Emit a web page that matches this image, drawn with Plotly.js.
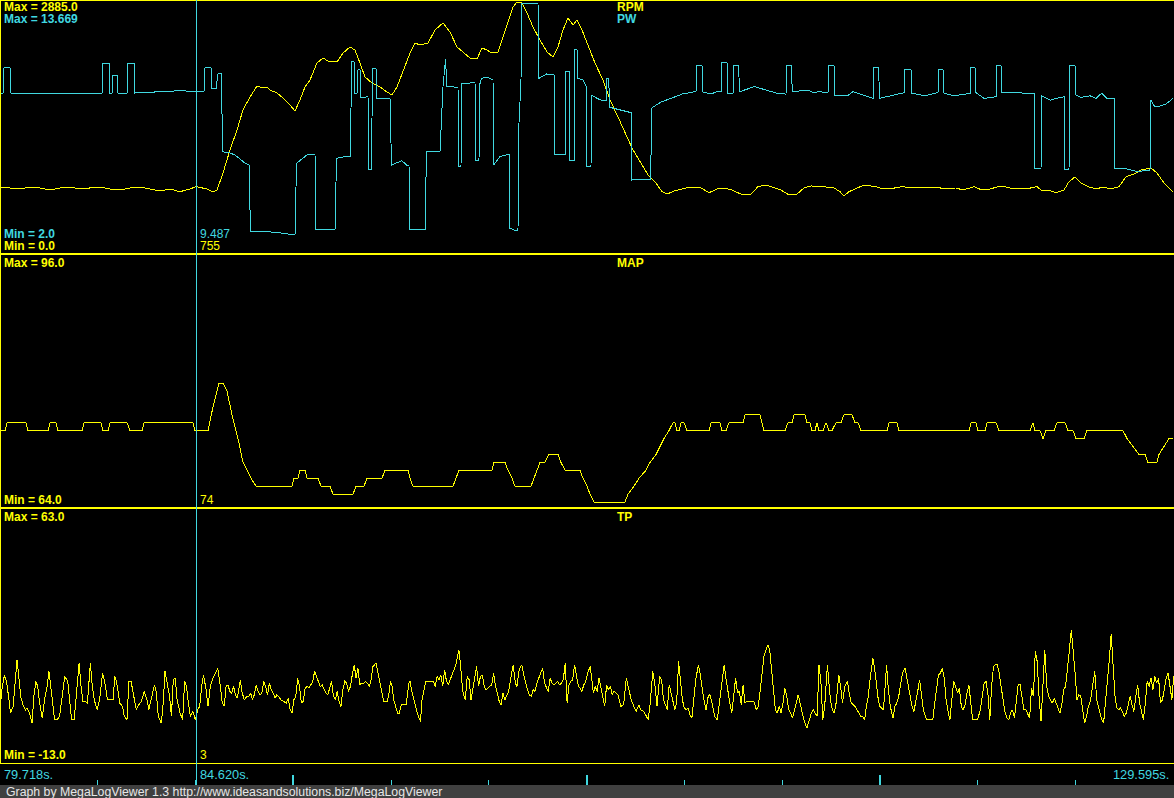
<!DOCTYPE html>
<html>
<head>
<meta charset="utf-8">
<script src="https://cdn.plot.ly/plotly-3.0.1.min.js"></script>
<style>
html,body{margin:0;padding:0;background:#000;}
#chart{width:1174px;height:798px;}
#chart .scatterlayer path.js-line,
#chart .shapelayer path,
#chart .xtick, #chart .xtick2 { shape-rendering: crispEdges; }
</style>
</head>
<body>
<div id="chart"></div>
<script>
// ---------------- DATA (x = log record position) ----------------
const channelTop = ['RPM', 'PW'];
const channelMid = 'MAP';
const channelBot = 'TP';
const rpmRange = [0.0, 2885.0];
const pwRange = [2.0, 13.669];
const mapRange = [64.0, 96.0];
const tpRange = [-13.0, 63.0];
const recordRange = [0, 1174];
const cursorRecord = 196;
const cursorValues = {pw: '9.487', rpm: '755', map: '74', tp: '3'};
const timeLabels = {start: '79.718s.', cursor: '84.620s.', end: '129.595s.'};
const footerText = 'Graph by MegaLogViewer 1.3 http://www.ideasandsolutions.biz/MegaLogViewer';

const rpmX = [
  0,10,20,30,40,50,60,70,80,90,
  100,110,120,130,140,150,160,170,180,190,
  196,207,213,217,223,230,237,243,250,257,
  262,267,270,277,283,290,295,300,305,310,
  317,323,328,337,343,350,355,360,365,372,
  380,387,392,397,403,410,415,420,428,435,
  443,450,457,463,470,477,482,487,492,498,
  502,507,513,517,522,527,533,540,547,553,
  558,563,568,573,577,582,588,595,603,610,
  618,625,633,641,648,656,662,667,675,686,
  694,701,709,717,724,732,743,751,758,766,
  773,781,789,796,804,811,823,834,840,844,
  849,857,864,876,883,895,902,914,925,937,
  944,956,963,974,982,990,997,1003,1009,1020,
  1031,1037,1041,1048,1056,1064,1069,1075,1081,1088,
  1096,1103,1111,1119,1126,1134,1141,1151,1157,1164,
  1173];
const rpmVal = [
  750,739,727,750,739,715,739,750,727,739,
  750,727,715,739,750,727,704,727,696,727,
  755,727,692,715,912,1177,1408,1639,1789,1916,
  1893,1904,1869,1835,1777,1696,1627,1754,1904,1985,
  2181,2239,2204,2193,2296,2366,2331,2181,2020,1950,
  1904,1846,1812,1904,2077,2296,2412,2389,2412,2562,
  2643,2539,2366,2308,2239,2227,2354,2331,2296,2308,
  2446,2597,2827,2885,2873,2758,2597,2446,2308,2250,
  2366,2562,2700,2620,2677,2562,2380,2181,1985,1754,
  1558,1373,1177,1027,889,796,696,669,707,739,
  750,739,684,727,739,715,658,669,754,773,
  750,715,658,658,739,762,754,739,696,646,
  696,742,773,754,727,739,754,739,742,750,
  727,739,715,754,715,727,750,762,739,727,
  739,754,715,715,684,715,811,866,796,754,
  727,750,727,754,869,900,946,969,912,796,
  696];

const pwX = [
  0,3,4,10,11,102,103,109,110,112,
  113,117,118,127,128,134,135,180,196,204,
  205,211,212,216,218,221.5,222.5,230,235,245,
  249,250.5,275,295,296.5,300,307,315,316,335,
  336.5,345,350.5,351.5,354,355,357,358,360,361,
  368,369,371.5,372.5,376,377,390,391.5,396.7,401.7,
  406.7,409,410,425,426.5,440,443,445.5,447,458,
  458.5,461,461.7,475,476,479,479.5,481.7,488,491.7,
  493,493.5,500,509.5,510,515,518,518.5,521,521.7,
  538,539,546.7,554.5,555,565.5,566,569.5,570,574.5,
  575,577,577.5,583,586.5,587,591,591.5,597,603,
  606,606.7,608.5,610,617,630,631.5,632,650.5,652,
  661,671,682,694,696,696.5,702,702.5,711,716.6,
  721.5,722,727,728,733,734,738.6,739.5,754.5,766,
  777,786,787,791,792.4,807.6,813,819,828,828.5,
  834,835,847.5,853,860.7,873.5,874,878.6,879.5,891,
  904.5,905,911,912,925,938,938.5,943,944,953.7,
  970.5,971,975,976,984,996.5,997,1001,1002,1034.5,
  1035,1041,1042,1050.4,1056,1064.5,1065,1069,1070,1075.5,
  1076,1081,1090,1096,1101.6,1107,1114.5,1115,1124,1137.7,
  1150,1151,1154.7,1160,1166,1173];
const pwVal = [
  9.40,9.40,10.59,10.59,9.42,9.42,10.82,10.82,9.42,9.42,
  10.26,10.26,9.42,9.42,10.82,10.82,9.42,9.53,9.49,9.50,
  10.60,10.60,9.61,9.61,10.31,10.31,6.68,6.62,6.53,6.15,
  6.06,2.95,2.93,2.79,6.14,6.26,6.53,6.53,3.03,3.03,
  6.37,6.45,6.45,10.88,10.88,9.41,9.41,10.50,10.50,9.19,
  9.25,5.83,5.83,10.57,10.57,9.17,9.17,6.06,6.15,6.26,
  6.06,6.06,3.03,3.03,6.68,6.68,9.72,10.99,9.72,9.69,
  6.01,6.01,9.87,9.90,6.29,6.29,9.79,10.11,10.15,10.03,
  10.03,6.06,6.45,6.57,3.11,3.00,3.00,7.55,10.00,13.60,
  13.60,10.11,10.31,10.26,6.53,6.53,10.42,10.42,6.29,6.29,
  11.43,11.43,10.11,10.03,9.72,5.98,5.98,9.33,9.17,9.05,
  9.05,10.11,10.11,8.75,8.66,8.50,8.50,5.36,5.39,8.73,
  9.00,9.17,9.37,9.48,9.48,10.71,10.71,9.48,9.37,9.48,
  9.48,10.84,10.84,9.41,9.41,10.71,10.71,9.48,9.72,9.56,
  9.41,9.37,10.71,10.71,9.48,9.56,9.44,9.48,9.44,10.71,
  10.71,9.29,9.29,9.48,9.37,9.17,10.62,10.62,9.17,9.29,
  9.44,10.50,10.50,9.41,9.29,9.44,10.50,10.50,9.41,9.29,
  9.41,10.62,10.62,9.44,9.17,9.25,10.71,10.71,9.44,9.41,
  5.91,5.91,9.29,9.09,9.17,9.25,5.86,5.86,10.71,10.68,
  9.33,9.22,9.29,9.17,9.41,9.17,9.17,5.91,5.91,5.75,
  5.83,9.09,8.78,8.81,8.91,9.17];

const mapX = [
  0,5,7,26,28,48,50,56,58,82,
  84,101,103,108,110,127,130,142,144,193,
  195,208,213,219,223,227,232,238,243,247,
  251,256,292,294,298,300,305,307,318,321,
  330,333,353,356,364,367,382,385,408,410,
  413,453,456,459,492,494,505,508,512,515,
  531,534,537,540,545,549,558,561,565,580,
  583,587,590,594,625,628,634,639,646,650,
  656,660,664,669,673,675,677,679,681,684,
  687,709,711,720,722,726,729,743,745,760,
  762,764,785,788,792,794,805,807,810,812,
  815,817,819,823,826,829,832,836,841,844,
  852,855,858,861,887,889,897,899,969,971,
  976,978,985,987,996,999,1030,1033,1035,1040,
  1043,1046,1054,1057,1065,1068,1073,1076,1084,1087,
  1123,1127,1133,1139,1145,1148,1157,1159,1164,1169,
  1173];
const mapVal = [
  74,74,75,75,74,74,75,75,74,74,
  75,75,74,74,75,75,74,74,75,75,
  74,74,77,80,80,79,76,73,70,69,
  68,67,67,68,68,69,69,68,68,67,
  67,66,66,67,67,68,68,69,69,68,
  67,67,68,69,69,70,70,69,68,67,
  67,68,69,70,70,71,71,70,69,69,
  68,67,66,65,65,66,67,68,69,70,
  71,72,73,74,75,75,74,74,75,75,
  74,74,75,75,74,74,75,75,76,76,
  75,74,74,75,75,76,76,75,75,74,
  74,75,74,74,75,74,74,75,75,76,
  76,75,75,74,74,75,75,74,74,75,
  75,74,74,75,75,74,74,75,74,74,
  73,74,74,75,75,74,74,73,73,74,
  74,73,72,71,71,70,70,71,72,73,
  73];

const tpX = [
  0,1.9,4.5,6.8,9.4,10.5,13.2,15.1,17.0,18.8,
  20.7,23.4,25.6,27.1,29.4,32.0,33.9,35.8,37.7,39.6,
  42.2,44.5,47.1,49.0,52.0,54.6,57.3,59.5,62.2,64.8,
  67.8,69.7,71.6,74.2,76.5,79.1,81.0,82.9,84.8,87.4,
  90.4,92.3,94.2,97.2,99.8,102.5,104.7,107.4,110.0,113.0,
  114.9,116.8,119.8,122.5,124.3,127.0,128.9,131.1,133.8,136.4,
  138.7,141.3,144.3,147.0,148.8,150.7,152.6,154.5,156.4,158.3,
  161.3,163.2,165.0,167.7,169.6,171.4,173.3,175.2,177.1,180.1,
  182.7,184.6,186.5,188.4,190.3,192.9,195.2,197.8,199.7,201.6,
  203.5,206.1,208.0,210.3,212.9,215.5,217.8,219.7,222.3,224.2,
  226.1,228.0,229.8,231.7,233.6,235.5,237.4,240.4,241.9,244.2,
  246.8,248.7,250.6,252.5,254.3,256.2,258.1,260.0,261.9,263.8,
  265.6,267.5,269.4,271.3,273.2,275.1,276.9,278.8,280.7,283.3,
  286.4,288.2,290.1,292.0,293.9,295.8,297.7,299.5,301.4,303.3,
  305.2,307.1,309.0,310.9,312.7,314.6,316.5,318.4,320.3,322.2,
  324.0,325.9,327.8,329.7,331.6,333.5,335.3,337.2,339.1,341.0,
  342.9,344.8,346.6,348.5,350.4,352.3,354.2,356.1,357.9,359.8,
  361.7,363.6,365.5,367.4,369.3,371.1,373.0,376.0,377.5,379.8,
  381.3,383.6,385.1,387.3,388.8,390.4,391.9,393.7,395.6,397.5,
  399.4,401.3,403.9,406.2,408.8,410.0,411.5,413.7,416.4,419.0,
  420.5,422.0,423.9,425.8,429.5,433.3,435.2,437.1,439.0,440.8,
  442.7,444.6,446.5,448.4,451.4,454.0,455.9,458.9,460.4,462.7,
  465.3,467.2,469.1,471.0,472.9,474.7,476.6,478.5,480.4,482.3,
  484.2,486.1,487.9,489.8,491.7,493.6,495.5,497.4,499.2,501.1,
  503.0,504.9,506.8,508.7,510.5,513.2,515.4,516.9,519.2,521.8,
  523.7,525.6,527.5,529.4,531.3,533.2,535.0,536.9,538.8,540.7,
  542.6,544.5,546.3,548.2,550.1,552.0,553.9,555.8,557.7,559.5,
  561.4,563.3,565.2,567.1,569.0,570.8,572.7,574.6,576.5,578.4,
  580.0,581.9,583.8,585.7,587.6,590.2,592.1,593.3,595.2,597.1,
  599.0,600.9,602.8,604.7,606.6,608.5,610.4,612.2,614.1,616.0,
  617.9,621.0,623.6,626.3,628.6,631.2,633.9,636.2,638.8,640.7,
  643.7,646.4,648.3,650.2,652.8,655.1,657.0,659.7,661.6,663.5,
  665.4,667.3,669.2,671.1,673.0,674.9,676.7,678.6,680.5,682.4,
  684.3,686.2,688.1,690.0,691.9,693.8,695.7,698.4,700.6,703.3,
  706.0,708.2,709.8,712.0,714.7,717.3,719.6,722.3,724.2,726.1,
  728.0,729.9,731.8,733.7,735.6,737.5,739.3,741.2,743.1,745.0,
  746.9,750.7,753.8,756.4,758.3,761.4,764.0,767.8,769.7,771.6,
  773.5,775.4,777.3,779.2,781.1,783.0,784.9,786.8,788.7,790.6,
  792.5,794.4,796.3,798.2,800.1,802.0,803.8,806.9,809.5,811.4,
  813.3,815.2,817.1,819.0,820.9,822.8,824.7,827.4,828.5,830.4,
  832.3,834.2,836.1,838.8,841.0,842.5,844.8,847.5,849.4,851.3,
  853.2,855.1,857.0,858.9,860.8,862.7,864.6,866.4,868.3,870.2,
  872.9,875.2,877.8,879.7,881.6,883.5,886.6,888.1,890.3,893.0,
  894.9,896.8,898.7,900.6,902.5,905.1,907.0,909.3,912.0,913.9,
  915.8,917.7,919.6,921.5,923.4,925.3,927.2,930.9,932.8,934.7,
  936.6,938.5,940.4,942.3,944.2,946.1,948.0,949.9,951.8,953.7,
  955.6,957.5,959.4,961.3,963.2,965.1,967.0,968.9,970.8,972.7,
  974.6,977.6,980.3,982.2,984.1,986.0,987.9,989.8,991.6,993.5,
  995.4,997.3,999.2,1001.1,1003.0,1004.9,1006.8,1008.7,1010.6,1012.5,
  1014.4,1016.3,1018.2,1020.1,1022.0,1023.9,1025.8,1027.7,1029.6,1031.5,
  1033.4,1035.3,1037.2,1039.1,1041.0,1042.9,1044.8,1046.7,1048.6,1050.5,
  1052.4,1054.3,1056.1,1058.0,1059.9,1061.8,1063.7,1065.6,1067.5,1069.4,
  1071.3,1073.2,1075.1,1077.0,1078.9,1080.8,1082.7,1084.6,1086.5,1088.4,
  1090.3,1092.2,1094.8,1096.7,1099.0,1101.7,1103.6,1105.5,1107.4,1109.3,
  1111.2,1113.1,1115.0,1116.9,1118.8,1120.6,1122.5,1124.4,1126.3,1128.2,
  1130.1,1132.0,1133.9,1135.8,1137.7,1139.6,1141.5,1143.4,1145.3,1147.2,
  1149.1,1151.0,1152.9,1154.8,1156.7,1158.6,1160.5,1162.4,1164.3,1166.2,
  1168.1,1170.0,1171.9,1173.7];
const tpVal = [
  3.0,9.0,13.5,11.0,5.0,2.0,4.0,10.0,18.0,13.0,
  7.0,4.0,3.0,3.5,2.0,-1.0,7.0,11.5,10.0,5.0,
  0.5,6.0,10.0,14.5,7.0,0.0,0.0,1.0,7.0,13.0,
  11.5,5.0,0.0,0.0,7.0,17.0,10.0,5.5,5.5,5.0,
  17.0,10.0,6.0,3.0,6.5,14.0,11.5,6.0,6.0,6.0,
  13.0,11.0,5.0,4.0,1.0,0.0,11.5,11.5,7.0,3.0,
  4.5,5.5,8.5,6.0,3.0,5.5,7.0,10.5,8.0,1.0,
  -1.0,5.0,14.5,10.0,7.0,1.0,12.0,12.5,6.0,2.0,
  0.0,11.5,10.0,5.0,1.0,2.5,0.0,3.0,4.0,10.0,
  13.5,9.0,4.0,10.0,12.5,14.0,15.5,11.5,5.0,4.0,
  10.0,10.5,8.5,8.0,10.0,7.5,6.5,12.0,8.5,6.0,
  7.0,7.0,8.0,6.0,7.5,10.5,8.5,7.5,8.0,11.5,
  10.0,7.5,11.0,9.0,8.0,6.5,7.5,7.0,6.0,5.5,
  5.0,6.5,3.0,2.0,6.0,7.0,12.5,10.0,5.0,5.5,
  9.5,10.0,9.5,10.5,11.5,14.5,13.0,11.0,10.0,10.5,
  9.0,8.0,7.5,10.0,11.5,7.0,6.0,8.5,5.5,4.0,
  9.0,11.5,11.0,8.5,10.0,13.5,16.5,12.5,15.5,10.5,
  11.0,11.0,11.5,11.0,10.0,12.0,16.0,17.0,15.0,11.0,
  9.0,5.5,5.5,5.5,7.5,11.5,10.5,6.0,4.0,2.0,
  2.0,4.5,4.5,4.5,11.0,11.5,9.0,6.0,3.0,0.5,
  -0.5,6.0,9.0,11.5,11.5,11.5,10.0,13.0,12.0,13.5,
  10.0,15.0,11.5,10.5,13.0,15.0,16.5,21.0,17.0,8.5,
  6.0,13.0,12.0,6.0,9.0,13.0,16.0,10.0,13.0,13.5,
  10.0,9.0,9.5,10.0,10.5,14.0,10.0,8.0,5.5,4.5,
  8.0,6.0,7.5,8.5,12.0,16.5,11.0,10.0,15.0,16.5,
  13.5,11.0,9.0,7.5,7.0,9.0,8.5,11.0,12.5,14.0,
  15.5,11.0,10.0,8.5,12.5,11.0,10.5,11.0,11.5,10.5,
  11.0,12.0,17.0,5.0,10.5,11.5,12.0,16.5,12.5,10.0,
  9.5,8.5,10.5,11.5,14.0,16.0,11.5,8.0,10.0,8.5,
  12.5,9.5,7.0,4.0,10.5,9.0,10.0,7.5,8.5,8.0,
  7.5,4.0,4.5,12.5,9.0,6.0,4.0,2.5,4.5,3.0,
  2.5,1.0,0.0,5.0,14.5,10.0,4.0,13.0,12.0,6.0,
  4.5,3.0,10.5,7.5,5.5,3.0,5.5,17.5,12.0,6.0,
  3.5,3.0,3.5,1.5,0.5,7.0,12.0,16.5,13.0,7.0,
  3.0,7.0,7.5,5.0,1.0,0.0,6.0,12.5,16.5,12.0,
  8.0,5.0,2.0,8.0,12.5,8.0,8.5,4.5,10.5,5.0,
  5.5,5.5,5.5,3.0,4.0,12.0,19.0,22.5,21.0,15.0,
  8.0,3.0,2.0,4.0,2.0,5.0,9.5,7.0,3.0,2.0,
  0.5,3.0,5.0,7.5,5.0,2.5,0.0,-2.5,0.0,2.0,
  3.0,2.0,1.0,16.5,11.5,0.0,4.0,16.5,12.5,6.0,
  3.0,2.0,5.0,13.5,9.0,5.0,10.0,11.5,7.5,5.0,
  4.5,4.0,3.0,2.0,1.0,1.0,0.0,4.0,7.0,12.5,
  18.5,14.0,7.0,4.0,3.5,3.0,16.5,10.0,4.0,0.5,
  4.0,5.0,7.0,11.0,14.0,15.5,12.5,8.0,4.0,2.5,
  5.0,8.5,12.0,8.0,3.0,1.0,0.0,0.0,0.0,5.0,
  10.0,13.5,14.0,15.5,12.5,6.0,2.5,0.0,6.0,11.5,
  10.0,8.0,9.5,4.0,3.0,4.5,8.0,10.5,5.0,0.0,
  0.0,0.0,3.0,7.0,11.0,11.5,8.0,0.0,10.0,16.0,
  16.5,16.5,14.0,10.0,5.5,2.5,0.5,0.0,2.0,3.0,
  0.5,5.0,10.5,10.5,6.0,3.0,3.0,1.5,0.5,9.5,
  7.0,20.5,17.5,6.5,-0.5,10.0,21.0,10.0,7.0,6.0,
  5.0,6.5,5.0,3.0,2.0,4.5,9.0,10.0,15.0,21.0,
  27.0,21.0,14.0,6.0,7.5,7.0,3.5,-1.0,1.0,4.0,
  5.5,10.0,14.5,6.0,3.0,0.0,-1.0,5.0,10.5,18.0,
  25.8,17.0,7.0,3.5,3.0,3.5,2.0,1.0,2.0,5.0,
  7.0,4.5,2.5,7.0,10.5,5.0,2.0,0.0,5.0,11.5,
  10.0,12.5,9.0,13.0,11.0,12.5,5.0,6.0,9.0,12.5,
  14.0,10.0,6.0,13.0];

// ---------------- STYLE / LAYOUT ----------------
const W = 1174, H = 798;
const YEL = '#ffff00';
const CYA = '#40d8e0';
const FONT = 'Liberation Sans, Arial, Helvetica, sans-serif';
const py = p => 1 - p / H;   // pixel row -> paper y
const px = p => p / W;       // pixel col -> paper x

const traces = [
  {x: rpmX, y: rpmVal, xaxis: 'x', yaxis: 'y', type: 'scatter', mode: 'lines',
   line: {color: YEL, width: 1}, name: channelTop[0]},
  {x: pwX, y: pwVal, xaxis: 'x', yaxis: 'y2', type: 'scatter', mode: 'lines',
   line: {color: CYA, width: 1}, name: channelTop[1]},
  {x: mapX, y: mapVal, xaxis: 'x', yaxis: 'y3', type: 'scatter', mode: 'lines',
   line: {color: YEL, width: 1}, name: channelMid},
  {x: tpX, y: tpVal, xaxis: 'x', yaxis: 'y4', type: 'scatter', mode: 'lines',
   line: {color: YEL, width: 1}, name: channelBot}
];

const hidden = {showgrid: false, zeroline: false, showticklabels: false, ticks: '', showline: false, fixedrange: true};

function lab(text, x, y, color, bold, xanchor, size) {
  return {text: bold ? '<b>' + text + '</b>' : text, xref: 'paper', yref: 'paper',
    x: px(x), y: py(y), xanchor: xanchor || 'left', yanchor: 'middle', showarrow: false,
    font: {family: FONT, size: size || 12, color: color}, borderpad: 0};
}

const annotations = [
  lab('Max = ' + rpmRange[1].toFixed(1), 3, 7, YEL, true),
  lab('Max = ' + pwRange[1].toFixed(3), 3, 19, CYA, true),
  lab(channelTop[0], 616, 7, YEL, true),
  lab(channelTop[1], 616, 19, CYA, true),
  lab('Min = ' + pwRange[0].toFixed(1), 3, 234, CYA, true),
  lab('Min = ' + rpmRange[0].toFixed(1), 3, 246, YEL, true),
  lab(cursorValues.pw, 199, 234, CYA, false),
  lab(cursorValues.rpm, 199, 246, YEL, false),
  lab('Max = ' + mapRange[1].toFixed(1), 3, 263, YEL, true),
  lab(channelMid, 616, 263, YEL, true),
  lab('Min = ' + mapRange[0].toFixed(1), 3, 500, YEL, true),
  lab(cursorValues.map, 199, 500, YEL, false),
  lab('Max = ' + tpRange[1].toFixed(1), 3, 517, YEL, true),
  lab(channelBot, 616, 517, YEL, true),
  lab('Min = ' + tpRange[0].toFixed(1), 3, 755, YEL, true),
  lab(cursorValues.tp, 199, 755, YEL, false),
  lab(timeLabels.start, 3, 774, CYA, false, 'left', 12.8),
  lab(timeLabels.cursor, 199, 774, CYA, false, 'left', 12.8),
  lab(timeLabels.end, 1170, 774, CYA, false, 'right', 12.8),
  {text: footerText, xref: 'paper', yref: 'paper', x: px(5), y: py(791.5), xanchor: 'left', yanchor: 'middle',
   showarrow: false, font: {family: FONT, size: 12.3, color: '#e6e6e6'}, borderpad: 0}
];

const hline = (p, w) => ({type: 'line', xref: 'paper', yref: 'paper', x0: 0, x1: 1, y0: py(p), y1: py(p),
  line: {color: YEL, width: w}});

const shapes = [
  {type: 'rect', xref: 'paper', yref: 'paper', x0: 0, x1: 1, y0: 0, y1: py(785), fillcolor: '#404040', line: {width: 0}},
  hline(0.5, 1), hline(254, 2), hline(508, 2), hline(763.5, 1),
  {type: 'line', xref: 'paper', yref: 'paper', x0: px(0.5), x1: px(0.5), y0: py(763), y1: 1, line: {color: YEL, width: 1}},
  {type: 'line', xref: 'x', yref: 'paper', x0: cursorRecord, x1: cursorRecord, y0: py(785), y1: 1, line: {color: CYA, width: 1}}
];

const layout = {
  width: W, height: H,
  margin: {l: 0, r: 0, t: 0, b: 0, pad: 0},
  paper_bgcolor: '#000000', plot_bgcolor: '#000000',
  showlegend: false,
  xaxis: Object.assign({}, hidden, {range: recordRange, domain: [0, 1], anchor: 'y4'}),
  xaxis2: {range: recordRange, domain: [0, 1], anchor: 'y5', showgrid: false, zeroline: false, showline: false,
    showticklabels: false, ticks: 'inside', tickmode: 'linear', tick0: 0, dtick: 293.25,
    ticklen: 10, tickwidth: 2, tickcolor: CYA,
    minor: {ticks: 'inside', tickmode: 'linear', tick0: 0, dtick: 97.75, ticklen: 5, tickwidth: 1, tickcolor: CYA, showgrid: false}},
  yaxis: Object.assign({}, hidden, {range: rpmRange, domain: [py(252), py(2)]}),
  yaxis2: Object.assign({}, hidden, {range: pwRange, overlaying: 'y', side: 'right'}),
  yaxis3: Object.assign({}, hidden, {range: mapRange, domain: [py(510), py(256)]}),
  yaxis4: Object.assign({}, hidden, {range: tpRange, domain: [py(763), py(510)]}),
  yaxis5: Object.assign({}, hidden, {range: [0, 1], domain: [py(785), py(763)]}),
  annotations: annotations,
  shapes: shapes
};

// invisible helper trace so the tick strip axis is drawn
traces.push({x: [recordRange[0]], y: [-5], xaxis: 'x2', yaxis: 'y5', type: 'scatter', mode: 'markers',
  marker: {size: 1, color: '#000'}, hoverinfo: 'skip'});

Plotly.newPlot('chart', traces, layout, {staticPlot: true, displayModeBar: false});
</script>
</body>
</html>
